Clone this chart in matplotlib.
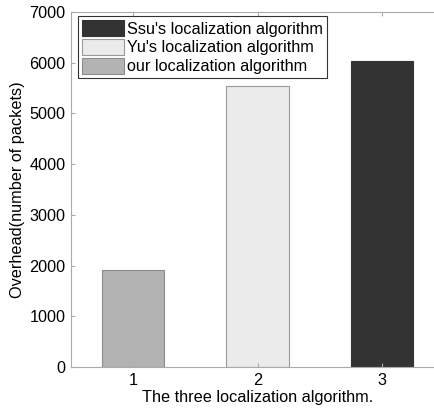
import matplotlib
matplotlib.use('Agg')
import matplotlib.pyplot as plt

# data
positions = [1, 2, 3]
overhead = [1920, 5550, 6040]
labels = ["our localization algorithm", "Yu's localization algorithm", "Ssu's localization algorithm"]
colors = ['#b3b3b3', '#ebebeb', '#333333']
edges = ['#8c8c8c', '#999999', '#333333']

plt.rcParams['font.family'] = ['Liberation Sans', 'DejaVu Sans']
plt.rcParams['font.size'] = 11.7

fig = plt.figure(figsize=(4.35, 4.09), dpi=100)
# axes extends past right edge, like the cropped original
ax = fig.add_axes([71/435, (409-367)/409, (444-71)/435, (367-12)/409])

handles = []
for p, v, c, e, l in zip(positions, overhead, colors, edges, labels):
    h = ax.bar(p, v, width=0.5, color=c, edgecolor=e, linewidth=0.8, label=l)
    handles.append(h)

ax.set_xlim(0.5, 3.5)
ax.set_ylim(0, 7000)
ax.set_xticks(positions)
ax.set_yticks(range(0, 7001, 1000))
ax.tick_params(direction='in', top=True, right=False, length=3, color='#aaaaaa', pad=4)
for s in ax.spines.values():
    s.set_color('#aaaaaa')
ax.spines['right'].set_visible(False)

ax.set_xlabel('The three localization algorithm.', labelpad=2)
ax.set_ylabel('Overhead(number of packets)', labelpad=3)

leg = ax.legend(handles[::-1], labels[::-1], loc='upper left', bbox_to_anchor=(0.01, 0.997),
                fancybox=False, framealpha=1, edgecolor='#333333', borderpad=0.25,
                handlelength=2.6, handleheight=1.1, handletextpad=0.15, labelspacing=0.15,
                borderaxespad=0.2)
leg.get_frame().set_linewidth(0.8)

fig.savefig('out.png', dpi=100)
